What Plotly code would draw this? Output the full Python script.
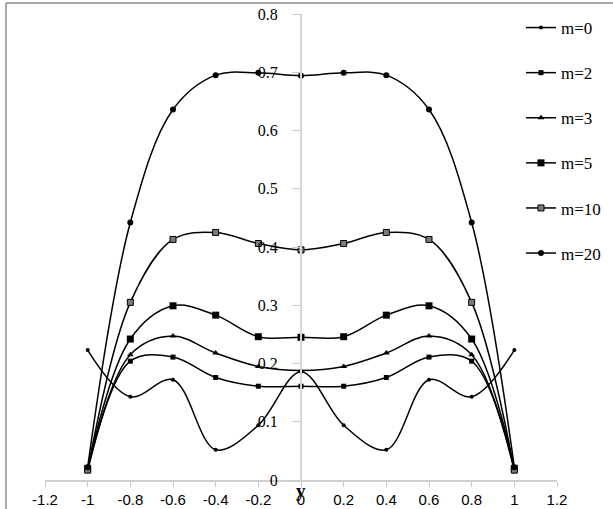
import plotly.graph_objects as go

x_vals = [-1, -0.8, -0.6, -0.4, -0.2, 0, 0.2, 0.4, 0.6, 0.8, 1]

m0 = [0.223, 0.143, 0.172, 0.052, 0.094, 0.186, 0.094, 0.052, 0.172, 0.143, 0.223]
m2 = [0.016, 0.204, 0.211, 0.176, 0.161, 0.161, 0.161, 0.176, 0.211, 0.204, 0.016]
m3 = [0.018, 0.215, 0.247, 0.218, 0.195, 0.188, 0.195, 0.218, 0.247, 0.215, 0.018]
m5 = [0.020, 0.242, 0.299, 0.283, 0.246, 0.245, 0.246, 0.283, 0.299, 0.242, 0.020]
m10 = [0.017, 0.305, 0.413, 0.425, 0.406, 0.395, 0.406, 0.425, 0.413, 0.305, 0.017]
m20 = [0.022, 0.442, 0.636, 0.695, 0.699, 0.694, 0.699, 0.695, 0.636, 0.442, 0.022]

series_names = ["m=0", "m=2", "m=3", "m=5", "m=10", "m=20"]
series_vals = [m0, m2, m3, m5, m10, m20]

x_tickvals = [-1.2, -1, -0.8, -0.6, -0.4, -0.2, 0, 0.2, 0.4, 0.6, 0.8, 1, 1.2]
x_ticktext = ["-1.2", "-1", "-0.8", "-0.6", "-0.4", "-0.2", "0", "0.2", "0.4", "0.6", "0.8", "1", "1.2"]
y_tickvals = [0, 0.1, 0.2, 0.3, 0.4, 0.5, 0.6, 0.7, 0.8]
y_ticktext = ["0", "0.1", "0.2", "0.3", "0.4", "0.5", "0.6", "0.7", "0.8"]

markers = [
    dict(symbol="circle", size=4, color="black"),
    dict(symbol="square", size=5, color="black"),
    dict(symbol="triangle-up", size=6, color="black"),
    dict(symbol="square", size=7, color="black"),
    dict(symbol="square", size=6, color="#7a7a7a", line=dict(color="black", width=1)),
    dict(symbol="circle", size=6, color="black"),
]

fig = go.Figure()
for name, vals, mk in zip(series_names, series_vals, markers):
    fig.add_trace(go.Scatter(
        x=x_vals, y=vals, name=name, mode="lines+markers",
        line=dict(color="black", width=1.5, shape="spline", smoothing=1.0),
        marker=mk, legendgroup=name,
    ))

W, H = 613, 509
L, R, T, B = 45, 56, 14, 29
pw, ph = W - L - R, H - T - B

def px_x(p):
    return (p - L) / pw

def px_y(p):
    return (H - B - p) / ph

fig.update_layout(
    width=W, height=H,
    margin=dict(l=L, r=R, t=T, b=B, pad=0, autoexpand=False),
    paper_bgcolor="white", plot_bgcolor="white",
    showlegend=True,
    legend=dict(
        x=px_x(521), y=px_y(10), xanchor="left", yanchor="top",
        font=dict(family="Liberation Serif", size=17, color="black"),
        tracegroupgap=20, itemwidth=30, bgcolor="rgba(0,0,0,0)",
        maxheight=480,
    ),
    xaxis=dict(
        range=[-1.2, 1.2], tickvals=x_tickvals, ticktext=x_ticktext,
        showgrid=False, zeroline=False, showline=True, linecolor="#d0d0d0", linewidth=1.5,
        ticks="outside", ticklen=5, tickcolor="#c8c8c8", tickwidth=1,
        tickfont=dict(family="Liberation Sans", size=15, color="black"),
        ticklabelstandoff=0, automargin=False,
    ),
    yaxis=dict(
        range=[0, 0.8], tickvals=y_tickvals, ticktext=y_ticktext,
        anchor="free", position=0.5, side="left",
        showgrid=False, zeroline=False, showline=True, linecolor="#d6d6d6", linewidth=2,
        ticks="outside", ticklen=8, tickcolor="#c8c8c8", tickwidth=1,
        tickfont=dict(family="Liberation Serif", size=16, color="black"),
        ticklabelstandoff=11, automargin=False,
    ),
    annotations=[
        dict(x=0, xref="x", y=px_y(491), yref="paper", text="<b>y</b>", showarrow=False,
             font=dict(family="Liberation Serif", size=19, color="black"),
             xanchor="center", yanchor="middle"),
    ],
    shapes=[
        dict(type="line", xref="paper", yref="paper", x0=px_x(6), x1=px_x(613), y0=px_y(3), y1=px_y(3),
             line=dict(color="#8c8c8c", width=1.5)),
        dict(type="line", xref="paper", yref="paper", x0=px_x(6), x1=px_x(6), y0=px_y(3), y1=px_y(509),
             line=dict(color="#8c8c8c", width=1.5)),
    ],
)

fig.write_html("out.html")
